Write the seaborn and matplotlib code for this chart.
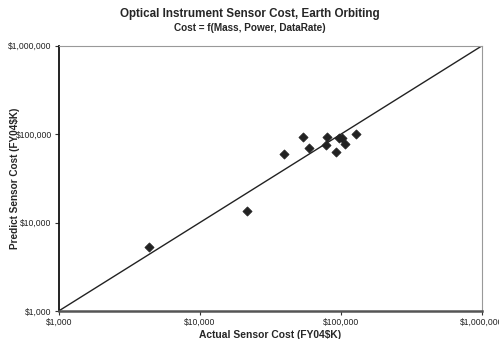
import matplotlib
matplotlib.use("Agg")
import matplotlib.pyplot as plt
import matplotlib.ticker as mticker
import seaborn as sns
import pandas as pd

# Data (FY04$K)
actual_cost = [4385, 21600, 39700, 53600, 59000, 79200, 78000, 91800, 97300, 101600, 107300, 127900]
predicted_cost = [5300, 13400, 59600, 92000, 70200, 93600, 75900, 63200, 89600, 91000, 76700, 101000]
parity_x = [1000, 1000000]
parity_y = [1000, 1000000]
tick_values = [1000, 10000, 100000, 1000000]
tick_labels = ["$1,000", "$10,000", "$100,000", "$1,000,000"]

title = "Optical Instrument Sensor Cost, Earth Orbiting"
subtitle = "Cost = f(Mass, Power, DataRate)"
xlabel = "Actual Sensor Cost (FY04$K)"
ylabel = "Predict Sensor Cost (FY04$K)"

df = pd.DataFrame({"actual": actual_cost, "predicted": predicted_cost})
line_df = pd.DataFrame({"x": parity_x, "y": parity_y})

sns.set_style("white")
plt.rcParams["font.family"] = ["Liberation Sans", "DejaVu Sans"]

fig = plt.figure(figsize=(4.99, 3.39), dpi=100)
ax = fig.add_axes([0.1176, 0.0826, 0.966 - 0.1176, 0.865 - 0.0826])

ax.set_xscale("log")
ax.set_yscale("log")

sns.lineplot(data=line_df, x="x", y="y", ax=ax, color="#222222", linewidth=1.0)
sns.scatterplot(data=df, x="actual", y="predicted", ax=ax, marker="D", s=22,
                color="#222222", edgecolor="#222222", linewidth=0.5, zorder=3)

ax.set_xlim(1000, 1000000)
ax.set_ylim(1000, 1000000)
ax.set_xticks(tick_values)
ax.set_yticks(tick_values)
ax.set_xticklabels(tick_labels, fontsize=6.2)
ax.set_yticklabels(tick_labels, fontsize=6.2)
ax.xaxis.set_minor_locator(mticker.NullLocator())
ax.yaxis.set_minor_locator(mticker.NullLocator())
ax.tick_params(axis="both", which="major", direction="out", length=3, width=0.8,
               color="#333333", labelcolor="#222222", pad=2, bottom=True, left=True)

ax.set_xlabel(xlabel, fontsize=7.4, fontweight="bold", labelpad=2)
ax.set_ylabel(ylabel, fontsize=7.2, fontweight="bold")
ax.yaxis.set_label_coords(-0.092, 0.5)

for side in ["top", "right"]:
    ax.spines[side].set_visible(True)
    ax.spines[side].set_color("#999999")
    ax.spines[side].set_linewidth(0.8)
ax.spines["left"].set_color("#111111")
ax.spines["left"].set_linewidth(1.3)
ax.spines["bottom"].set_color("#555555")
ax.spines["bottom"].set_linewidth(1.8)
ax.grid(False)

fig.text(0.5, 1 - 13.5 / 339, title, ha="center", va="center", fontsize=8.4, fontweight="bold")
fig.text(0.5, 1 - 28 / 339, subtitle, ha="center", va="center", fontsize=7.2, fontweight="bold")

fig.savefig("out.png", dpi=100)
